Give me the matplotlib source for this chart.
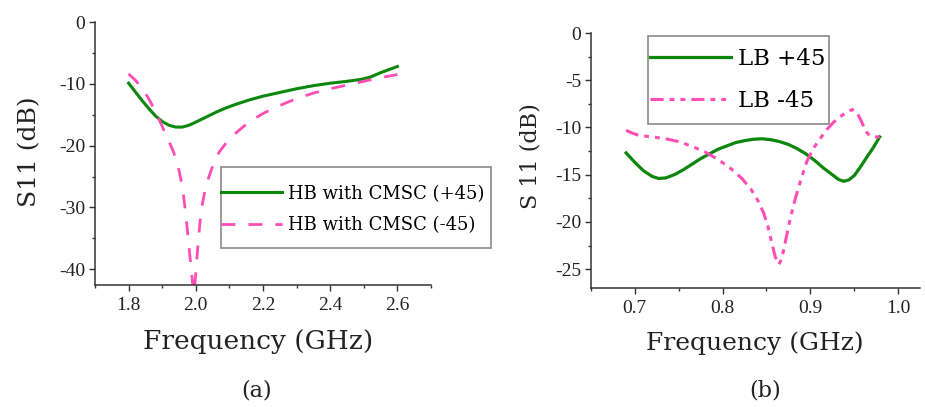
import matplotlib
matplotlib.use("Agg")
import matplotlib.pyplot as plt
from matplotlib.ticker import MultipleLocator, FormatStrFormatter
from matplotlib.patches import Rectangle

# ---------------- data ----------------
# Panel (a): HB with CMSC
freq_a_p45 = [1.80, 1.82, 1.84, 1.86, 1.88, 1.90, 1.92, 1.94, 1.96, 1.98, 2.00, 2.03,
              2.06, 2.09, 2.12, 2.16, 2.20, 2.25, 2.30, 2.35, 2.40, 2.45, 2.49, 2.52,
              2.55, 2.58, 2.60]
s11_a_p45 = [-9.9, -11.3, -12.7, -14.0, -15.2, -16.1, -16.7, -17.0, -17.0, -16.7, -16.2,
             -15.4, -14.6, -13.9, -13.3, -12.6, -12.0, -11.4, -10.8, -10.3, -9.9, -9.6,
             -9.3, -8.9, -8.2, -7.6, -7.2]

freq_a_m45 = [1.80, 1.82, 1.84, 1.86, 1.88, 1.90, 1.92, 1.935, 1.95, 1.96, 1.97, 1.98,
              1.99, 1.995, 2.0, 2.008, 2.016, 2.028, 2.04, 2.055, 2.07, 2.09, 2.11, 2.14,
              2.17, 2.20, 2.25, 2.30, 2.35, 2.40, 2.45, 2.50, 2.55, 2.60]
s11_a_m45 = [-8.4, -9.4, -10.7, -12.4, -14.5, -16.9, -19.3, -21.2, -24.0, -26.6, -31.0,
             -36.5, -42.0, -44.0, -40.5, -35.0, -30.5, -27.0, -24.9, -22.6, -21.0, -19.6,
             -18.4, -17.0, -15.8, -14.8, -13.5, -12.4, -11.5, -10.8, -10.2, -9.6, -9.0,
             -8.5]

# Panel (b): LB
freq_b_p45 = [0.690, 0.700, 0.710, 0.720, 0.727, 0.735, 0.745, 0.755, 0.765, 0.775,
              0.785, 0.795, 0.805, 0.815, 0.825, 0.835, 0.845, 0.855, 0.865, 0.875,
              0.885, 0.895, 0.905, 0.915, 0.925, 0.932, 0.938, 0.944, 0.950, 0.957,
              0.964, 0.972, 0.979]
s11_b_p45 = [-12.7, -13.7, -14.6, -15.2, -15.4, -15.35, -15.0, -14.5, -13.9, -13.3,
             -12.8, -12.3, -11.95, -11.6, -11.4, -11.25, -11.2, -11.3, -11.5, -11.8,
             -12.25, -12.8, -13.5, -14.3, -15.0, -15.5, -15.7, -15.55, -15.1, -14.2,
             -13.2, -12.1, -11.0]

freq_b_m45 = [0.690, 0.697, 0.705, 0.720, 0.735, 0.750, 0.765, 0.780, 0.795, 0.810,
              0.822, 0.832, 0.840, 0.847, 0.852, 0.856, 0.860, 0.864, 0.867, 0.870,
              0.874, 0.878, 0.883, 0.889, 0.896, 0.903, 0.911, 0.919, 0.927, 0.935,
              0.942, 0.948, 0.953, 0.958, 0.963, 0.968, 0.974, 0.979]
s11_b_m45 = [-10.3, -10.6, -10.85, -11.0, -11.2, -11.5, -12.0, -12.6, -13.4, -14.4,
             -15.4, -16.5, -17.7, -19.1, -20.6, -22.2, -23.7, -24.5, -24.0, -22.8,
             -21.0, -19.3, -17.5, -15.6, -13.6, -12.3, -11.2, -10.2, -9.4, -8.8,
             -8.35, -8.1, -8.4, -9.3, -10.4, -10.9, -11.0, -11.0]

labels_a = ["HB with CMSC (+45)", "HB with CMSC (-45)"]
labels_b = ["LB +45", "LB -45"]
xticks_a = [1.8, 2.0, 2.2, 2.4, 2.6]
yticks_a = [0, -10, -20, -30, -40]
xticks_b = [0.7, 0.8, 0.9, 1.0]
yticks_b = [0, -5, -10, -15, -20, -25]

# ---------------- style ----------------
GREEN = "#0b870b"
PINK = "#ff4db5"
AX_COLOR = "#333333"
TXT = "#222222"
TICK_FONT = "Liberation Serif"
LABEL_FONT = "DejaVu Serif"

W, H = 925, 407
fig = plt.figure(figsize=(W / 100, H / 100), dpi=100)
ax_a = fig.add_axes([95 / W, 1 - 285 / H, 336 / W, 263 / H])
ax_b = fig.add_axes([591 / W, 1 - 288 / H, 329 / W, 255 / H])


def style_axes(ax):
    for side in ("top", "right"):
        ax.spines[side].set_visible(False)
    for side in ("left", "bottom"):
        ax.spines[side].set_color(AX_COLOR)
        ax.spines[side].set_linewidth(1.1)
    ax.tick_params(which="major", direction="out", length=4, width=1.0,
                   color=AX_COLOR, labelsize=14)
    ax.tick_params(axis="x", which="major", pad=4.5)
    ax.tick_params(axis="y", which="major", pad=3)
    ax.tick_params(which="minor", direction="out", length=2.2, width=1.0,
                   color=AX_COLOR)
    for lab in ax.get_xticklabels() + ax.get_yticklabels():
        lab.set_fontfamily(TICK_FONT)
        lab.set_color(TXT)


def legend_box(ax, x0, y0, x1, y1):
    rect = Rectangle((x0 / W, 1 - y1 / H), (x1 - x0) / W, (y1 - y0) / H,
                     transform=fig.transFigure, facecolor="white",
                     edgecolor="#8a8a8a", linewidth=1.2, zorder=4, clip_on=False)
    ax.add_patch(rect)


# ---- panel (a) ----
la1, = ax_a.plot(freq_a_p45, s11_a_p45, color=GREEN, lw=2.2)
la2, = ax_a.plot(freq_a_m45, s11_a_m45, color=PINK, lw=2.0, linestyle=(0, (5, 4.7)))
ax_a.set_xlim(1.7, 2.7)
ax_a.set_ylim(-42.55, 0)
ax_a.set_xticks(xticks_a)
ax_a.set_yticks(yticks_a)
ax_a.xaxis.set_minor_locator(MultipleLocator(0.1))
ax_a.yaxis.set_minor_locator(MultipleLocator(5))
ax_a.xaxis.set_major_formatter(FormatStrFormatter("%.1f"))
ax_a.yaxis.set_major_formatter(FormatStrFormatter("%d"))
style_axes(ax_a)

legend_box(ax_a, 221, 167, 491, 248)
leg_a = ax_a.legend([la1, la2], labels_a, loc="center left",
                    bbox_to_anchor=(221 / W, 1 - 209.5 / H),
                    bbox_transform=fig.transFigure,
                    prop={"family": LABEL_FONT, "size": 13},
                    frameon=False, handlelength=3.4, handletextpad=0.3,
                    borderpad=0, labelspacing=0.75, borderaxespad=0)
leg_a.set_zorder(5)

# ---- panel (b) ----
lb1, = ax_b.plot(freq_b_p45, s11_b_p45, color=GREEN, lw=2.3)
lb2, = ax_b.plot(freq_b_m45, s11_b_m45, color=PINK, lw=2.2,
                 linestyle=(0, (4.3, 1.95, 1.6, 1.95, 1.6, 1.95)))
ax_b.set_xlim(0.65, 1.025)
ax_b.set_ylim(-27.0, 0)
ax_b.set_xticks(xticks_b)
ax_b.set_yticks(yticks_b)
ax_b.xaxis.set_minor_locator(MultipleLocator(0.05))
ax_b.yaxis.set_minor_locator(MultipleLocator(2.5))
ax_b.xaxis.set_major_formatter(FormatStrFormatter("%.1f"))
ax_b.yaxis.set_major_formatter(FormatStrFormatter("%d"))
style_axes(ax_b)

legend_box(ax_b, 648, 36, 829, 124)
leg_b = ax_b.legend([lb1, lb2], labels_b, loc="center left",
                    bbox_to_anchor=(650 / W, 1 - 80 / H),
                    bbox_transform=fig.transFigure,
                    prop={"family": LABEL_FONT, "size": 16.5},
                    frameon=False, handlelength=3.55, handletextpad=0.3,
                    borderpad=0, labelspacing=0.85, borderaxespad=0)
leg_b.set_zorder(5)

# ---- axis labels / captions (figure coordinates) ----
fig.text(30 / W, 1 - 152 / H, "S11 (dB)", rotation=90, ha="center", va="center",
         family=LABEL_FONT, size=18, color=TXT)
fig.text(531 / W, 1 - 156 / H, "S 11 (dB)", rotation=90, ha="center", va="center",
         family=LABEL_FONT, size=16, color=TXT)
fig.text(258 / W, 1 - 342 / H, "Frequency (GHz)", ha="center", va="center",
         family=LABEL_FONT, size=19, color=TXT)
fig.text(755 / W, 1 - 343 / H, "Frequency (GHz)", ha="center", va="center",
         family=LABEL_FONT, size=18, color=TXT)
fig.text(257 / W, 1 - 390 / H, "(a)", ha="center", va="center",
         family=LABEL_FONT, size=16, color=TXT)
fig.text(765 / W, 1 - 390 / H, "(b)", ha="center", va="center",
         family=LABEL_FONT, size=16, color=TXT)

fig.savefig("out.png", dpi=100)
